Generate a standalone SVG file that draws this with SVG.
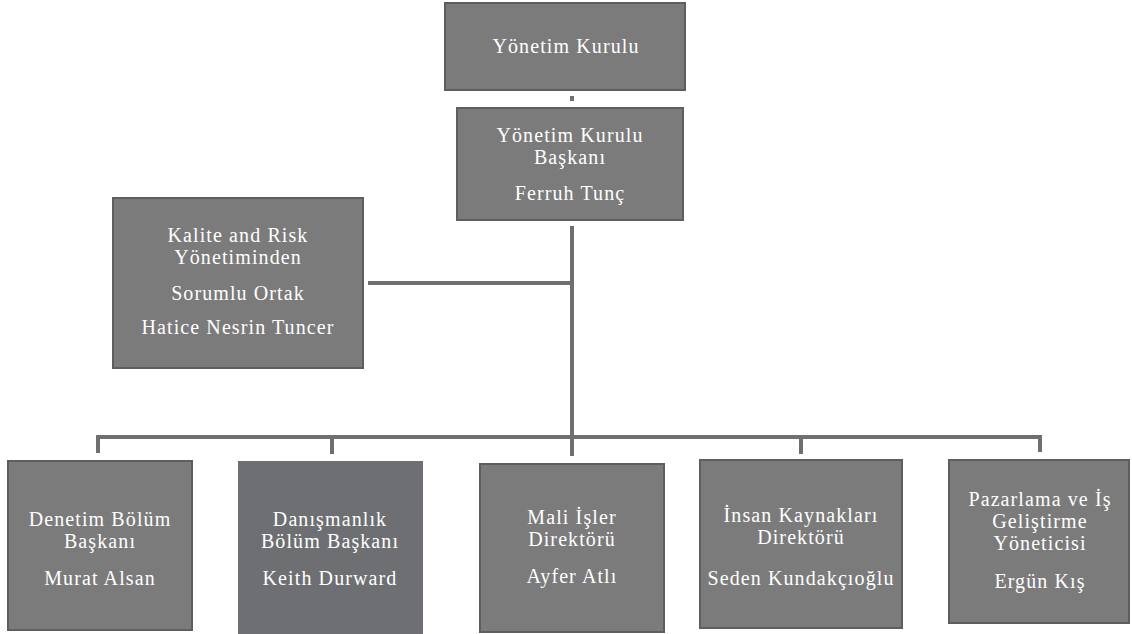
<svg xmlns="http://www.w3.org/2000/svg" width="1132" height="634" viewBox="0 0 1132 634">
<style>
.box{fill:#7b7b7b;stroke:#5e5e5e;stroke-width:2}
.dark{fill:#6d6f72;stroke:none}
.t{font-family:'Liberation Serif','Times New Roman',Times,serif;font-size:20px;letter-spacing:1.1px;fill:#ffffff;text-anchor:middle}
.c{stroke:#6f6f6f;stroke-width:4;fill:none}
</style>
<rect width="1132" height="634" fill="#ffffff"/>
<g id="connectors">
<line class="c" x1="572" y1="96" x2="572" y2="101" stroke-width="3"/>
<line class="c" x1="572" y1="226" x2="572" y2="437"/>
<line class="c" x1="368" y1="283" x2="572" y2="283"/>
<polyline class="c" points="98,453 98,437 1040,437 1040,452"/>
<line class="c" x1="332" y1="437" x2="332" y2="454"/>
<line class="c" x1="572" y1="437" x2="572" y2="456"/>
<line class="c" x1="801" y1="437" x2="801" y2="454"/>
</g>
<g id="yonetim-kurulu">
<rect class="box" x="445" y="3" width="240" height="87"/>
<text class="t" x="566" y="53">Yönetim Kurulu</text>
</g>
<g id="baskan">
<rect class="box" x="457" y="108" width="226" height="112"/>
<text class="t" x="570" y="142">Yönetim Kurulu</text>
<text class="t" x="570" y="164">Başkanı</text>
<text class="t" x="570" y="200">Ferruh Tunç</text>
</g>
<g id="kalite">
<rect class="box" x="113" y="198" width="250" height="170"/>
<text class="t" x="238" y="242">Kalite and Risk</text>
<text class="t" x="238" y="264">Yönetiminden</text>
<text class="t" x="238" y="300">Sorumlu Ortak</text>
<text class="t" x="238" y="334">Hatice Nesrin Tuncer</text>
</g>
<g id="denetim">
<rect class="box" x="8" y="461" width="184" height="169"/>
<text class="t" x="100" y="526">Denetim Bölüm</text>
<text class="t" x="100" y="548">Başkanı</text>
<text class="t" x="100" y="585">Murat Alsan</text>
</g>
<g id="danismanlik">
<rect class="dark" x="238" y="461" width="185" height="173"/>
<text class="t" x="330" y="526">Danışmanlık</text>
<text class="t" x="330" y="548">Bölüm Başkanı</text>
<text class="t" x="330" y="585">Keith Durward</text>
</g>
<g id="mali">
<rect class="box" x="480" y="464" width="184" height="168"/>
<text class="t" x="572" y="524">Mali İşler</text>
<text class="t" x="572" y="546">Direktörü</text>
<text class="t" x="572" y="583">Ayfer Atlı</text>
</g>
<g id="insan">
<rect class="box" x="700" y="460" width="202" height="168"/>
<text class="t" x="801" y="522">İnsan Kaynakları</text>
<text class="t" x="801" y="544">Direktörü</text>
<text class="t" x="801" y="585">Seden Kundakçıoğlu</text>
</g>
<g id="pazarlama">
<rect class="box" x="949" y="460" width="180" height="163"/>
<text class="t" x="1040" y="506">Pazarlama ve İş</text>
<text class="t" x="1040" y="528">Geliştirme</text>
<text class="t" x="1040" y="550">Yöneticisi</text>
<text class="t" x="1040" y="588">Ergün Kış</text>
</g>
</svg>
